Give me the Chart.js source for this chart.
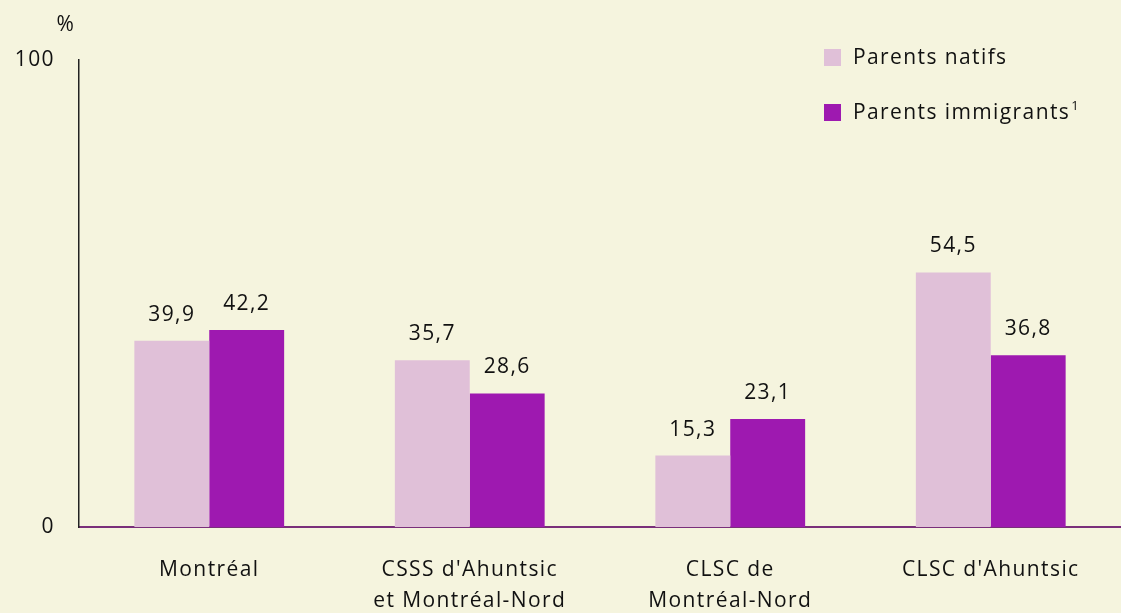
<!DOCTYPE html>
<html><head><meta charset="utf-8">
<script src="https://cdn.jsdelivr.net/npm/chart.js@4/dist/chart.umd.min.js"></script>
<style>html,body{margin:0;padding:0;background:#f5f4de;}#wrap{width:1121px;height:613px;}</style>
</head><body><div id="wrap"><canvas id="c" width="1121" height="613"></canvas></div>
<script>
const categories = [["Montréal"], ["CSSS d'Ahuntsic", "et Montréal-Nord"], ["CLSC de", "Montréal-Nord"], ["CLSC d'Ahuntsic"]];
const seriesNames = ["Parents natifs", "Parents immigrants"];
const natifs = [39.9, 35.7, 15.3, 54.5];
const immigrants = [42.2, 28.6, 23.1, 36.8];
const yTicks = [0, 100];
const colors = ["#e0c0d8", "#9e19b0"];
const FONT = "'Open Sans', sans-serif";
const SPACING = '1.4px';

const fmt = v => v.toFixed(1).replace('.', ',');

const spacing = {
  id: 'spacing',
  beforeDraw(chart) { chart.ctx.letterSpacing = SPACING; }
};

const overlay = {
  id: 'overlay',
  afterDatasetsDraw(chart) {
    const ctx = chart.ctx;
    ctx.save();
    ctx.letterSpacing = SPACING;
    ctx.fillStyle = '#111';
    ctx.font = '21px ' + FONT;
    ctx.textAlign = 'center';
    ctx.textBaseline = 'middle';
    chart.data.datasets.forEach((ds, i) => {
      chart.getDatasetMeta(i).data.forEach((bar, j) => {
        ctx.fillText(fmt(ds.data[j]), bar.x, bar.y - 26);
      });
    });
    ctx.fillText('%', 66, 25);
    ctx.textAlign = 'left';
    const ly = [58, 113];
    seriesNames.forEach((n, i) => {
      ctx.fillStyle = colors[i];
      ctx.fillRect(824, ly[i] - 9, 17, 17);
      ctx.fillStyle = '#111';
      ctx.font = '21px ' + FONT;
      ctx.fillText(n, 853, ly[i]);
      if (i === 1) {
        const w = ctx.measureText(n).width;
        ctx.font = '13px ' + FONT;
        ctx.fillText('1', 853 + w + 1, ly[i] - 7);
      }
    });
    ctx.restore();
  }
};

new Chart(document.getElementById('c'), {
  type: 'bar',
  data: {
    labels: categories,
    datasets: [
      { label: seriesNames[0], data: natifs, backgroundColor: colors[0] },
      { label: seriesNames[1], data: immigrants, backgroundColor: colors[1] }
    ]
  },
  options: {
    responsive: false,
    animation: false,
    layout: { padding: { top: 60, right: 0, bottom: 0, left: 0 } },
    datasets: { bar: { categoryPercentage: 0.575, barPercentage: 1.0 } },
    plugins: { legend: { display: false }, tooltip: { enabled: false } },
    scales: {
      x: {
        grid: { display: false, drawTicks: false },
        border: { display: true, color: '#7a2f7a', width: 2 },
        ticks: { color: '#111', font: { family: FONT, size: 21, lineHeight: 1.5 }, padding: 27, maxRotation: 0, autoSkip: false },
        afterFit(s) { s.height = 613 - 527; }
      },
      y: {
        min: 0, max: 100,
        afterBuildTicks(s) { s.ticks = yTicks.map(v => ({ value: v })); },
        grid: { display: false, drawTicks: false },
        border: { display: true, color: '#222', width: 1.5 },
        ticks: { color: '#111', font: { family: FONT, size: 21 }, padding: 24 },
        afterFit(s) { s.width = 79; }
      }
    }
  },
  plugins: [spacing, overlay]
});
</script>
</body></html>
